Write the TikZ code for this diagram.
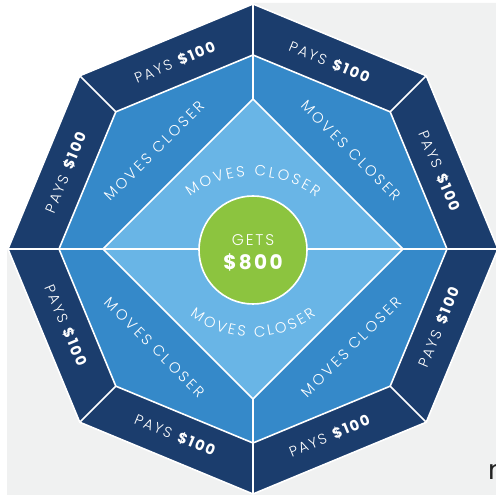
\documentclass[tikz,border=0pt]{standalone}
\usepackage{fontspec}
\setmainfont{Poppins}
\newfontfamily\lsfont[LetterSpace=12, UprightFont={Poppins Light}, BoldFont={Poppins Bold}]{Poppins}
\newfontfamily\wsfont[LetterSpace=18, UprightFont={Poppins Light}, BoldFont={Poppins Bold}]{Poppins}
\newfontfamily\arcfont[UprightFont={Poppins Light}]{Poppins}
\usetikzlibrary{calc,decorations.text}
\definecolor{darkband}{HTML}{1B3D6D}
\definecolor{midband}{HTML}{3589C9}
\definecolor{lightband}{HTML}{69B5E6}
\definecolor{centergreen}{HTML}{8CC43F}
\definecolor{bggray}{HTML}{F0F1F1}
\definecolor{fragtext}{HTML}{222222}
\begin{document}
\begin{tikzpicture}[x=1pt,y=1pt,
  sep/.style={draw=white, line width=1.6pt, line join=miter},
  paystext/.style={text=white, inner sep=0pt, font=\lsfont\fontsize{14.5}{14.5}\selectfont},
  movetext/.style={text=white, inner sep=0pt, font=\wsfont\fontsize{14.8}{14.8}\selectfont},
  arctext/.style={decorate, decoration={text along path, text align=center, text color=white,
      text={|\arcfont\fontsize{14.8}{14.8}\selectfont|#1}}}
]
\useasboundingbox (0,0) rectangle (496,495);
\clip (0,0) rectangle (496,495);
\fill[bggray] (7,0) -- (496,0) -- (496,492) -- (253,492) -- (253,246) -- (7,246) -- cycle;
\coordinate (C) at (253,246);
\foreach \a in {0,45,...,315} {
  \coordinate (o\a) at ($(C)+(\a:245)$);
  \coordinate (m\a) at ($(C)+(\a:194)$);
}
\foreach \a in {0,90,180,270} {
  \coordinate (d\a) at ($(C)+(\a:150)$);
}
% outer band
\path[sep, fill=darkband] (o0) -- (o45) -- (o90) -- (o135) -- (o180) -- (o225) -- (o270) -- (o315) -- cycle;
% middle band
\path[sep, fill=midband] (m0) -- (m45) -- (m90) -- (m135) -- (m180) -- (m225) -- (m270) -- (m315) -- cycle;
% radial separators
\foreach \a in {45,135,225,315} { \draw[sep] (m\a) -- (o\a); }
\foreach \a in {0,90,180,270} { \draw[sep] (d\a) -- (o\a); }
% diamond
\path[sep, fill=lightband] (d0) -- (d90) -- (d180) -- (d270) -- cycle;
\draw[sep] (d180) -- (d0);
% centre
\node[circle, fill=centergreen, sep, minimum size=108pt, inner sep=0pt] (hub) at (253,245) {};
\node[text=white, inner sep=0pt, font=\lsfont\fontsize{15.5}{15.5}\selectfont] (gets) at (253,254.5) {GETS};
\node[text=white, inner sep=0pt, font=\lsfont\bfseries\fontsize{20}{20}\selectfont] (amount) at (253,233) {\$800};
% outer labels
\foreach \a/\n in {22.5/1,67.5/2,112.5/3,157.5/4} {
  \node[paystext, rotate=\a-90] (pay\n) at ($(C)+(\a:202)$) {PAYS \textbf{\$100}};
}
\foreach \a/\n in {202.5/5,247.5/6,292.5/7,337.5/8} {
  \node[paystext, rotate=\a+90] (pay\n) at ($(C)+(\a:202)$) {PAYS \textbf{\$100}};
}
% middle labels
\foreach \a/\n in {45/1,135/2} {
  \node[movetext, rotate=\a-90] (move\n) at ($(C)+(\a:139)$) {MOVES CLOSER};
}
\foreach \a/\n in {225/3,315/4} {
  \node[movetext, rotate=\a+90] (move\n) at ($(C)+(\a:139)$) {MOVES CLOSER};
}
% diamond arc labels
\coordinate (topc) at (253,214);
\coordinate (botc) at (253,262);
\path[arctext={M{\kern2.5pt}O{\kern2.5pt}V{\kern2.5pt}E{\kern2.5pt}S{\kern2.5pt} {\kern2.5pt}C{\kern2.5pt}L{\kern2.5pt}O{\kern2.5pt}S{\kern2.5pt}E{\kern2.5pt}R}]
  ($(topc)+(150:105)$) arc[start angle=150, end angle=30, radius=105];
\path[arctext={M{\kern2.5pt}O{\kern2.5pt}V{\kern2.5pt}E{\kern2.5pt}S{\kern2.5pt} {\kern2.5pt}C{\kern2.5pt}L{\kern2.5pt}O{\kern2.5pt}S{\kern2.5pt}E{\kern2.5pt}R}]
  ($(botc)+(210:104)$) arc[start angle=210, end angle=330, radius=104];
% cropped fragment
\node[anchor=base west, inner sep=0pt, text=fragtext, font=\fontsize{27}{27}\selectfont] (frag) at (488,15) {n};
\end{tikzpicture}
\end{document}
